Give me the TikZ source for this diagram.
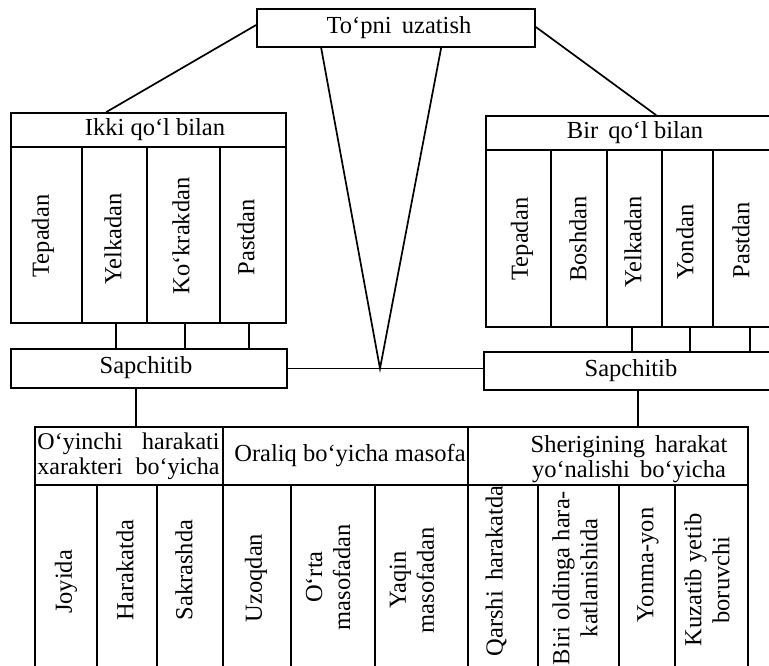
\documentclass[tikz,border=0pt]{standalone}
\usepackage{fontspec}
\setmainfont{Liberation Serif}
\usetikzlibrary{fit,calc}
\begin{document}
\begin{tikzpicture}[x=1pt,y=-1pt,line width=1.7pt,
  cell/.style={draw,inner sep=0pt,line width=1.7pt},
  lbl/.style={inner sep=0pt,font=\fontsize{24.5}{25}\selectfont},
  vlbl/.style={inner sep=0pt,rotate=90,align=center,font=\fontsize{24.5}{28}\selectfont}]
\useasboundingbox (0,0) rectangle (769,666);
\clip (0,0) rectangle (769,666);

% top box
\node[cell,fit={(257,9) (535,47)}] (top) {};
\node[lbl] (ttop) at (399,28) {To‘pni\, uzatish};

% two-hand block
\node[cell,fit={(11,113) (286,323)}] (ikki) {};
\node[cell,fit={(11,113) (286,147)}] (ikkiH) {};
\node[cell,fit={(11,147) (82,323)}] (ik1) {};
\node[cell,fit={(82,147) (147,323)}] (ik2) {};
\node[cell,fit={(147,147) (220,323)}] (ik3) {};
\node[cell,fit={(220,147) (286,323)}] (ik4) {};
\node[lbl] (tikki) at (155,130) {Ikki qo‘l bilan};
\node[vlbl] (tik1) at (43,236) {Tepadan};
\node[vlbl] (tik2) at (113,239) {Yelkadan};
\node[vlbl] (tik3) at (181,236) {Ko‘krakdan};
\node[vlbl] (tik4) at (246,237) {Pastdan};

% one-hand block
\node[cell,fit={(486,116) (784,327)}] (bir) {};
\node[cell,fit={(486,116) (784,150)}] (birH) {};
\node[cell,fit={(486,150) (551,327)}] (bi1) {};
\node[cell,fit={(551,150) (607,327)}] (bi2) {};
\node[cell,fit={(607,150) (662,327)}] (bi3) {};
\node[cell,fit={(662,150) (713,327)}] (bi4) {};
\node[cell,fit={(713,150) (784,327)}] (bi5) {};
\node[lbl] (tbir) at (635,133) {Bir\, qo‘l bilan};
\node[vlbl] (tbi1) at (522,239) {Tepadan};
\node[vlbl] (tbi2) at (578,239) {Boshdan};
\node[vlbl] (tbi3) at (633,242) {Yelkadan};
\node[vlbl] (tbi4) at (685,242) {Yondan};
\node[vlbl] (tbi5) at (741,240) {Pastdan};

% Sapchitib boxes
\node[cell,fit={(11,349) (287,388)}] (sapL) {};
\node[lbl] (tsapL) at (146,368) {Sapchitib};
\node[cell,fit={(484,352) (778,390)}] (sapR) {};
\node[lbl] (tsapR) at (631,371) {Sapchitib};

% lower table: headers
\node[cell,fit={(35,427) (223,485)}] (h1) {};
\node[cell,fit={(223,427) (468,485)}] (h2) {};
\node[cell,fit={(468,427) (748,485)}] (h3) {};
\node[lbl,text width=182pt,align=left,font=\fontsize{24}{24.5}\selectfont] (th1) at (128.5,456.5)
  {O‘yinchi\hfill harakati\\xarakteri\hfill bo‘yicha};
\node[lbl] (th2) at (350,456) {Oraliq bo‘yicha masofa};
\node[lbl,align=center] (th3) at (629,459)
  {Sherigining\, harakat\\yo‘nalishi\, bo‘yicha};

% lower table: columns
\node[cell,fit={(35,485) (97,700)}] (c1) {};
\node[cell,fit={(97,485) (157,700)}] (c2) {};
\node[cell,fit={(157,485) (223,700)}] (c3) {};
\node[cell,fit={(223,485) (291,700)}] (c4) {};
\node[cell,fit={(291,485) (375,700)}] (c5) {};
\node[cell,fit={(375,485) (468,700)}] (c6) {};
\node[cell,fit={(468,485) (538,700)}] (c7) {};
\node[cell,fit={(538,485) (619,700)}] (c8) {};
\node[cell,fit={(619,485) (675,700)}] (c9) {};
\node[cell,fit={(675,485) (748,700)}] (c10) {};
\node[vlbl] (tc1) at (66,582) {Joyida};
\node[vlbl] (tc2) at (125,570) {Harakatda};
\node[vlbl] (tc3) at (184,570) {Sakrashda};
\node[vlbl] (tc4) at (256,578) {Uzoqdan};
\node[vlbl] (tc5) at (328,577) {O‘rta\\masofadan};
\node[vlbl] (tc6) at (412,580) {Yaqin\\masofadan};
\node[vlbl] (tc7) at (496,571) {Qarshi\, harakatda};
\node[vlbl] (tc8) at (575,578) {Biri oldinga hara-\\katlanishida};
\node[vlbl] (tc9) at (648,565) {Yonma-yon};
\node[vlbl] (tc10) at (707,580) {Kuzatib yetib\\boruvchi};

% connectors
\coordinate (apex) at (380,368.5);
\draw ([yshift=3pt]top.west) -- ($(ikki.north west)+(96,0)$);
\draw ([yshift=1pt]top.east) -- ($(bir.north west)+(171,0)$);
\draw ($(top.south west)+(65,0)$) -- (apex) -- ($(top.south west)+(185,0)$);
\draw (sapL.east) -- (sapL.east -| sapR.west);
\foreach \dx in {106,175,239}
  \draw ($(ikki.south west)+(\dx,0)$) -- ($(sapL.north west)+(\dx,0)$);
\foreach \dx in {147,205,265}
  \draw ($(bir.south west)+(\dx,0)$) -- ($(bir.south west |- sapR.north)+(\dx,0)$);
\draw ($(sapL.south west)+(126,0)$) -- ($(h1.north west)+(102,0)$);
\draw ($(sapR.south west)+(155,0)$) -- ($(h3.north west)+(171,0)$);
\end{tikzpicture}
\end{document}
